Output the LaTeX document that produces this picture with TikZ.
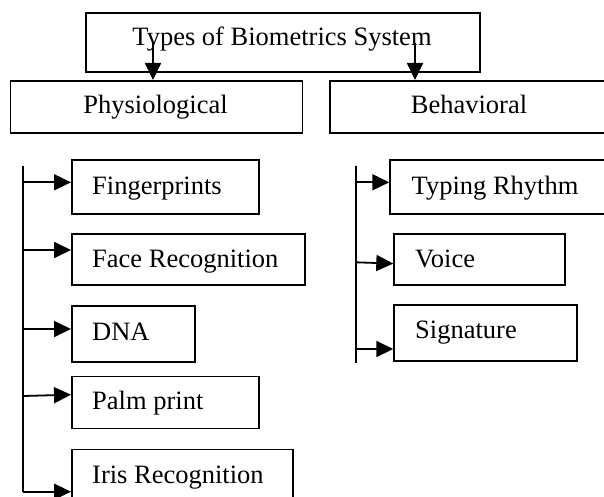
\documentclass[tikz,border=0pt]{standalone}
\usepackage{fontspec}
\setmainfont{Liberation Serif}
\usetikzlibrary{arrows.meta}
\begin{document}
\begin{tikzpicture}[x=1pt,y=-1pt,
  box/.style={draw, line width=1.8pt, anchor=north west, inner sep=0pt},
  lbl/.style={anchor=base west, inner sep=0pt, font=\fontsize{26.5}{30}\selectfont},
  clbl/.style={anchor=base, inner sep=0pt, font=\fontsize{26.5}{30}\selectfont},
  trunk/.style={line width=1.8pt},
  arr/.style={line width=1.8pt, -{Triangle[length=17pt,width=16pt]}}]
  \fill[white] (0,0) rectangle (604,497);
  \useasboundingbox (0,0) rectangle (604,497);
  \clip (0,0) rectangle (604,497);

  % top level
  \node[box, minimum width=394pt, minimum height=59pt] (top) at (85,12) {};
  \node[clbl] (topt) at (282,46) {Types of Biometrics System};

  % two categories
  \node[box, minimum width=292pt, minimum height=52pt] (phys) at (9.5,80) {};
  \node[clbl] (physt) at (155.5,114) {Physiological};
  \node[box, minimum width=280pt, minimum height=52pt] (behav) at (329,80) {};
  \node[clbl] (behavt) at (469,114) {Behavioral};

  \coordinate (s1) at (153,43);
  \coordinate (s2) at (415,43);
  \draw[arr] (s1) -- (s1 |- phys.north);
  \draw[arr] (s2) -- (s2 |- behav.north);

  % physiological traits
  \node[box, minimum width=187pt, minimum height=54pt] (fp) at (71,159) {};
  \node[lbl] (fpt) at (92,194) {Fingerprints};
  \node[box, minimum width=233pt, minimum height=51pt] (face) at (71,233) {};
  \node[lbl] (facet) at (92,267.5) {Face Recognition};
  \node[box, minimum width=123pt, minimum height=56pt] (dna) at (71,305) {};
  \node[lbl] (dnat) at (92,340) {DNA};
  \node[box, minimum width=187pt, minimum height=52pt] (palm) at (71,375.5) {};
  \node[lbl] (palmt) at (92,409) {Palm print};
  \node[box, minimum width=221pt, minimum height=60pt] (iris) at (71,448.5) {};
  \node[lbl] (irist) at (92,483) {Iris Recognition};

  \coordinate (lt) at (23.3,165.5);
  \coordinate (lb) at (23.3,491.7);
  \draw[trunk] (lt) -- (lb);
  \coordinate (l1) at (23.3,182.3);
  \coordinate (l2) at (23.3,250);
  \coordinate (l3) at (23.3,329);
  \coordinate (l4) at (23.3,396);
  \draw[arr] (l1) -- (l1 -| fp.west);
  \draw[arr] (l2) -- (l2 -| face.west);
  \draw[arr] (l3) -- (l3 -| dna.west);
  \draw[arr] (l4) -- ([yshift=1.3pt]l4 -| palm.west);
  \draw[arr] (lb) -- (lb -| iris.west);

  % behavioral traits
  \node[box, minimum width=222pt, minimum height=54pt] (typ) at (389.3,159) {};
  \node[lbl] (typt) at (411.5,194) {Typing Rhythm};
  \node[box, minimum width=171pt, minimum height=51pt] (voice) at (393.3,233) {};
  \node[lbl] (voicet) at (415,267.5) {Voice};
  \node[box, minimum width=182.5pt, minimum height=56pt] (sig) at (393.3,304) {};
  \node[lbl] (sigt) at (415,338.5) {Signature};

  \coordinate (rt) at (355.7,165.5);
  \coordinate (rb) at (355.7,363.3);
  \draw[trunk] (rt) -- (rb);
  \coordinate (r1) at (355.7,182.3);
  \coordinate (r2) at (355.7,262.3);
  \coordinate (r3) at (355.7,349);
  \draw[arr] (r1) -- (r1 -| typ.west);
  \draw[arr] (r2) -- ([yshift=-1.3pt]r2 -| voice.west);
  \draw[arr] (r3) -- (r3 -| sig.west);
\end{tikzpicture}
\end{document}
